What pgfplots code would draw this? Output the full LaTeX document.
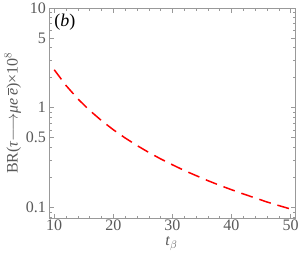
\documentclass[border=0pt]{standalone}
\usepackage{pgfplots}
\pgfplotsset{compat=1.18}
\usepackage{fontspec}
\setmainfont{Liberation Serif}
\definecolor{frame}{gray}{0.6}
\definecolor{lab}{gray}{0.35}
\begin{document}
\begin{tikzpicture}
\begin{axis}[
  name=ax,
  scale only axis,
  width=245.8pt, height=210pt,
  xmode=normal, ymode=log,
  xmin=9.2, xmax=50.8,
  ymin=0.078, ymax=10,
  xtick={10,20,30,40,50},
  minor x tick num=4,
  ytick={0.1,0.5,1,5,10},
  yticklabels={0.1,0.5,1,5,10},
  minor ytick={0.08,0.09,0.2,0.3,0.4,0.6,0.7,0.8,0.9,2,3,4,6,7,8,9},
  tick align=inside,
  major tick length=4.5pt,
  minor tick length=2.5pt,
  axis line style={frame, line width=0.6pt},
  every tick/.style={frame, line width=0.5pt},
  every minor tick/.style={frame, line width=0.4pt},
  tick label style={font=\fontsize{16}{18}\selectfont, text=lab},
  xticklabel style={inner sep=1pt, yshift=-1pt},
  /pgf/number format/assume math mode=true,
  xlabel={\textit{t}$_{\beta}$},
  ylabel={BR(\textit{τ}$\longrightarrow$\textit{μe}\,$\overline{\textit{e}}$)×10$^{8}$},
  label style={font=\fontsize{16}{18}\selectfont, text=lab},
  xlabel style={at={(rel axis cs:0.5,0)}, anchor=north, inner sep=0.5pt, yshift=-18pt, xshift=-1pt},
  ylabel style={at={(rel axis cs:0,0.5)}, anchor=south, rotate=0, yshift=25pt},
]
\addplot[red, line width=1.5pt, dash pattern=on 12pt off 7pt] coordinates {
(10,2.40) (12,1.667) (14,1.224) (16,0.9375) (18,0.741) (20,0.600)
(22,0.496) (24,0.417) (26,0.355) (28,0.306) (30,0.267) (32,0.234)
(34,0.208) (36,0.185) (38,0.166) (40,0.150) (42,0.136) (44,0.124)
(46,0.113) (48,0.104) (50,0.096)};
\node[anchor=north west, inner sep=1pt, font=\fontsize{18}{20}\selectfont] at (rel axis cs:0.015,0.975) {(\textit{b})};
\end{axis}
\pgfresetboundingbox
\path ([xshift=-49.5pt,yshift=-45pt]ax.south west) rectangle ([xshift=4.7pt,yshift=8pt]ax.north east);
\end{tikzpicture}
\end{document}
